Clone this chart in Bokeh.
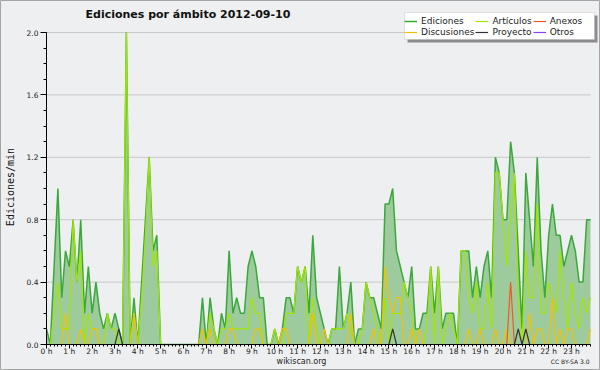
from bokeh.plotting import figure
from bokeh.models import (Range1d, FixedTicker, PrintfTickFormatter, Legend, LegendItem, Label,
                          BoxAnnotation)
from bokeh.embed import file_html
from bokeh.resources import INLINE

# 10-minute slots of the day (0..143), shown in hours
slots = list(range(144))
hours = [s / 6 for s in slots]

hour_ticks = list(range(24))
y_ticks = [0.0, 0.4, 0.8, 1.2, 1.6, 2.0]
y_max = 2.0
x_max = 143 / 6

ediciones = [
    0.1, 0.0, 0.5, 1.0, 0.3, 0.6, 0.5, 0.8, 0.4, 0.8, 0.2, 0.5,
    0.2, 0.4, 0.2, 0.1, 0.2, 0.1, 0.2, 0.1, 0.0, 2.0, 0.0, 0.3,
    0.0, 0.4, 0.8, 1.2, 0.6, 0.7, 0.0, 0.0, 0.0, 0.0, 0.0, 0.0,
    0.0, 0.0, 0.0, 0.0, 0.0, 0.3, 0.0, 0.3, 0.1, 0.0, 0.2, 0.1,
    0.6, 0.2, 0.3, 0.2, 0.2, 0.5, 0.6, 0.5, 0.3, 0.3, 0.0, 0.0,
    0.1, 0.0, 0.1, 0.3, 0.3, 0.2, 0.5, 0.4, 0.5, 0.2, 0.7, 0.3,
    0.2, 0.1, 0.0, 0.1, 0.1, 0.5, 0.1, 0.2, 0.4, 0.0, 0.1, 0.1,
    0.4, 0.3, 0.3, 0.2, 0.1, 0.9, 0.9, 1.0, 0.6, 0.5, 0.4, 0.3,
    0.5, 0.1, 0.1, 0.2, 0.2, 0.5, 0.2, 0.5, 0.1, 0.2, 0.2, 0.2,
    0.0, 0.6, 0.6, 0.6, 0.3, 0.5, 0.3, 0.5, 0.6, 0.3, 1.2, 1.1,
    0.8, 0.8, 1.3, 1.1, 0.6, 0.1, 1.1, 0.8, 0.5, 1.2, 0.6, 0.3,
    0.7, 0.9, 0.7, 0.7, 0.5, 0.6, 0.7, 0.6, 0.4, 0.4, 0.8, 0.8,
]

articulos = [
    0.0, 0.0, 0.2, 0.4, 0.1, 0.1, 0.1, 0.8, 0.4, 0.6, 0.0, 0.2,
    0.1, 0.1, 0.0, 0.0, 0.2, 0.1, 0.1, 0.0, 0.0, 2.0, 0.0, 0.2,
    0.0, 0.3, 0.7, 1.2, 0.5, 0.6, 0.0, 0.0, 0.0, 0.0, 0.0, 0.0,
    0.0, 0.0, 0.0, 0.0, 0.0, 0.0, 0.0, 0.2, 0.1, 0.0, 0.1, 0.1,
    0.2, 0.1, 0.1, 0.1, 0.1, 0.1, 0.3, 0.2, 0.2, 0.0, 0.0, 0.0,
    0.1, 0.0, 0.0, 0.2, 0.2, 0.2, 0.5, 0.4, 0.5, 0.0, 0.3, 0.1,
    0.0, 0.0, 0.0, 0.1, 0.1, 0.1, 0.1, 0.2, 0.1, 0.0, 0.0, 0.1,
    0.4, 0.3, 0.2, 0.1, 0.0, 0.3, 0.0, 0.2, 0.2, 0.2, 0.4, 0.3,
    0.2, 0.0, 0.0, 0.0, 0.1, 0.5, 0.0, 0.5, 0.0, 0.1, 0.2, 0.1,
    0.0, 0.6, 0.6, 0.3, 0.2, 0.4, 0.1, 0.1, 0.4, 0.1, 1.1, 1.1,
    0.8, 0.5, 0.8, 1.1, 0.3, 0.0, 0.6, 0.3, 0.3, 0.9, 0.2, 0.2,
    0.4, 0.3, 0.2, 0.6, 0.3, 0.1, 0.4, 0.2, 0.1, 0.3, 0.2, 0.3,
]

discusiones = [
    0.0, 0.0, 0.0, 0.0, 0.0, 0.2, 0.0, 0.0, 0.0, 0.1, 0.0, 0.0,
    0.1, 0.1, 0.0, 0.0, 0.0, 0.0, 0.0, 0.0, 0.0, 0.0, 0.0, 0.2,
    0.0, 0.0, 0.0, 0.0, 0.0, 0.0, 0.0, 0.0, 0.0, 0.0, 0.0, 0.0,
    0.0, 0.0, 0.0, 0.0, 0.0, 0.1, 0.0, 0.1, 0.0, 0.0, 0.0, 0.0,
    0.1, 0.1, 0.0, 0.0, 0.0, 0.0, 0.0, 0.1, 0.1, 0.0, 0.0, 0.0,
    0.0, 0.0, 0.1, 0.1, 0.0, 0.0, 0.0, 0.0, 0.0, 0.0, 0.2, 0.0,
    0.0, 0.1, 0.0, 0.0, 0.0, 0.0, 0.0, 0.0, 0.2, 0.0, 0.0, 0.0,
    0.0, 0.0, 0.1, 0.0, 0.0, 0.5, 0.3, 0.2, 0.3, 0.3, 0.0, 0.0,
    0.1, 0.0, 0.1, 0.0, 0.0, 0.0, 0.0, 0.0, 0.0, 0.0, 0.0, 0.0,
    0.0, 0.0, 0.0, 0.1, 0.0, 0.0, 0.1, 0.0, 0.0, 0.0, 0.1, 0.0,
    0.0, 0.1, 0.0, 0.0, 0.0, 0.0, 0.0, 0.2, 0.0, 0.1, 0.1, 0.0,
    0.0, 0.3, 0.0, 0.1, 0.0, 0.1, 0.1, 0.0, 0.0, 0.0, 0.0, 0.1,
]

anexos = [
    0.0, 0.0, 0.0, 0.0, 0.0, 0.0, 0.0, 0.0, 0.0, 0.0, 0.0, 0.0,
    0.0, 0.0, 0.0, 0.0, 0.0, 0.0, 0.0, 0.0, 0.0, 0.0, 0.0, 0.0,
    0.0, 0.0, 0.0, 0.0, 0.0, 0.0, 0.0, 0.0, 0.0, 0.0, 0.0, 0.0,
    0.0, 0.0, 0.0, 0.0, 0.0, 0.0, 0.0, 0.0, 0.0, 0.0, 0.0, 0.0,
    0.0, 0.0, 0.0, 0.0, 0.0, 0.0, 0.0, 0.0, 0.0, 0.0, 0.0, 0.0,
    0.0, 0.0, 0.0, 0.0, 0.0, 0.0, 0.0, 0.0, 0.0, 0.0, 0.0, 0.0,
    0.0, 0.0, 0.0, 0.0, 0.0, 0.0, 0.0, 0.0, 0.0, 0.0, 0.0, 0.0,
    0.0, 0.0, 0.0, 0.0, 0.0, 0.0, 0.0, 0.0, 0.0, 0.0, 0.0, 0.0,
    0.0, 0.0, 0.0, 0.0, 0.0, 0.0, 0.0, 0.0, 0.0, 0.0, 0.0, 0.0,
    0.0, 0.0, 0.0, 0.0, 0.0, 0.0, 0.0, 0.0, 0.0, 0.0, 0.0, 0.0,
    0.0, 0.0, 0.4, 0.0, 0.0, 0.0, 0.0, 0.0, 0.0, 0.0, 0.0, 0.0,
    0.0, 0.0, 0.0, 0.0, 0.0, 0.0, 0.0, 0.0, 0.0, 0.0, 0.0, 0.0,
]

proyecto = [
    0.0, 0.0, 0.0, 0.0, 0.0, 0.0, 0.0, 0.0, 0.0, 0.0, 0.0, 0.0,
    0.0, 0.0, 0.0, 0.0, 0.0, 0.0, 0.0, 0.1, 0.0, 0.0, 0.0, 0.0,
    0.0, 0.0, 0.0, 0.0, 0.0, 0.0, 0.0, 0.0, 0.0, 0.0, 0.0, 0.0,
    0.0, 0.0, 0.0, 0.0, 0.0, 0.0, 0.0, 0.0, 0.0, 0.0, 0.0, 0.0,
    0.0, 0.0, 0.0, 0.0, 0.0, 0.0, 0.0, 0.0, 0.0, 0.0, 0.0, 0.0,
    0.0, 0.0, 0.0, 0.0, 0.0, 0.0, 0.0, 0.0, 0.0, 0.0, 0.0, 0.0,
    0.0, 0.0, 0.0, 0.0, 0.0, 0.0, 0.0, 0.0, 0.0, 0.0, 0.0, 0.0,
    0.0, 0.0, 0.0, 0.0, 0.0, 0.0, 0.0, 0.1, 0.0, 0.0, 0.0, 0.0,
    0.0, 0.0, 0.0, 0.0, 0.0, 0.0, 0.0, 0.0, 0.0, 0.0, 0.0, 0.0,
    0.0, 0.0, 0.0, 0.0, 0.0, 0.0, 0.0, 0.0, 0.0, 0.0, 0.0, 0.0,
    0.0, 0.0, 0.0, 0.0, 0.1, 0.0, 0.1, 0.0, 0.0, 0.0, 0.0, 0.0,
    0.0, 0.0, 0.0, 0.0, 0.0, 0.0, 0.0, 0.0, 0.0, 0.0, 0.0, 0.0,
]

otros = [0.0] * 144

BG = "#eeeff0"
FONT = "DejaVu Sans"

# The frame covers the whole canvas; axes are pinned at 0 so that the
# plot area sits at x 46..590, y 32..344 (px) like the reference.
PX_PER_H = 544 / x_max
PX_PER_V = 312 / y_max
x_range = Range1d(-46 / PX_PER_H, x_max + 10 / PX_PER_H)
y_range = Range1d(-26 / PX_PER_V, y_max + 32 / PX_PER_V)


def px_x(px):
    return (px - 46) / PX_PER_H


def px_y(py):
    return (344 - py) / PX_PER_V


p = figure(width=600, height=370, output_backend="svg", toolbar_location=None,
           x_range=x_range, y_range=y_range,
           min_border_left=0, min_border_right=0, min_border_top=0, min_border_bottom=0,
           background_fill_color=BG, border_fill_color=BG)
p.outline_line_color = "#a4a4a4"
p.xgrid.visible = False
p.ygrid.visible = False

# horizontal grid lines at the major y ticks, across the data span
p.segment(x0=[0] * len(y_ticks[1:]), x1=[x_max] * len(y_ticks[1:]), y0=y_ticks[1:], y1=y_ticks[1:],
          line_color="#c8c8c8", line_width=1)

# area + lines
p.varea(x=hours, y1=[0.0] * 144, y2=ediciones, fill_color="#9ecb9e", fill_alpha=1.0)
r_ed = p.line(hours, ediciones, line_color="#3aa83a", line_width=1.5)
r_ar = p.line(hours, articulos, line_color="#a2e600", line_width=1.2)
r_di = p.line(hours, discusiones, line_color="#f2c200", line_width=1.2)
r_an = p.line(hours, anexos, line_color="#f05a1e", line_width=1.2)
r_pr = p.line(hours, proyecto, line_color="#333333", line_width=1.2)
r_ot = p.line(hours, otros, line_color="#8844ee", line_width=1.2)

# axes pinned at zero
xa = p.xaxis[0]
ya = p.yaxis[0]
xa.fixed_location = 0
ya.fixed_location = 0
xa.bounds = (0, x_max)
ya.bounds = (0, y_max)
xa.ticker = FixedTicker(ticks=hour_ticks, minor_ticks=hours)
xa.formatter = PrintfTickFormatter(format="%d h")
ya.ticker = FixedTicker(ticks=y_ticks, minor_ticks=[k / 10 for k in range(21)])
ya.formatter = PrintfTickFormatter(format="%.1f")
for ax in (xa, ya):
    ax.axis_line_color = "black"
    ax.major_tick_line_color = "black"
    ax.minor_tick_line_color = "black"
    ax.major_tick_in = 0
    ax.minor_tick_in = 0
    ax.major_label_text_font = FONT
    ax.major_label_text_font_size = "7.5px"
    ax.major_label_text_color = "#222222"
xa.major_tick_out = 4
xa.minor_tick_out = 2
xa.major_label_standoff = -2
ya.major_tick_out = 6
ya.minor_tick_out = 3
ya.major_label_standoff = 2

# texts
p.add_layout(Label(x=px_x(85), y=px_y(14), text="Ediciones por ámbito  2012-09-10",
                   text_font=FONT, text_font_style="bold", text_font_size="11px",
                   text_align="left", text_baseline="middle", text_color="#111111"))
p.add_layout(Label(x=px_x(10), y=px_y(186.5), text="Ediciones/min", angle=1.5708,
                   text_font="DejaVu Sans Mono", text_font_size="10px",
                   text_align="center", text_baseline="middle", text_color="#111111"))
p.add_layout(Label(x=px_x(301), y=px_y(361), text="wikiscan.org", text_font=FONT,
                   text_font_size="8px", text_align="center", text_baseline="middle",
                   text_color="#222222"))
p.add_layout(Label(x=px_x(589), y=px_y(361), text="CC BY-SA 3.0", text_font=FONT,
                   text_font_size="6px", text_align="right", text_baseline="middle",
                   text_color="#222222"))

# legend box with drop shadow, then the legend items on top
p.add_layout(BoxAnnotation(left=px_x(407), right=px_x(597), top=px_y(15), bottom=px_y(42),
                           fill_color="#8c8c8c", fill_alpha=1.0, line_color=None))
p.add_layout(BoxAnnotation(left=px_x(404), right=px_x(594), top=px_y(12), bottom=px_y(39),
                           fill_color="white", fill_alpha=1.0, line_color="#aaaaaa",
                           line_width=1))

names = ["Ediciones", "Artículos", "Anexos", "Discusiones", "Proyecto", "Otros"]
rends = [r_ed, r_ar, r_an, r_di, r_pr, r_ot]
legend = Legend(items=[LegendItem(label=n, renderers=[r]) for n, r in zip(names, rends)],
                location=(404, 333), orientation="horizontal", ncols=3,
                padding=3, spacing=1, margin=0,
                glyph_width=13, glyph_height=10, label_height=10, label_standoff=4,
                label_text_font=FONT, label_text_font_size="9px", label_text_line_height=1.0,
                label_text_color="#222222",
                background_fill_alpha=0, border_line_color=None)
p.add_layout(legend)

open("out.html", "w").write(file_html(p, INLINE))
